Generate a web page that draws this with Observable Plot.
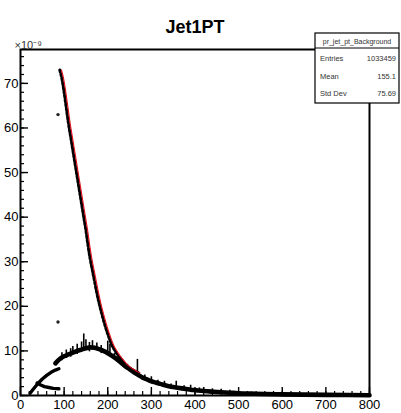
<!DOCTYPE html>
<html>
<head>
<meta charset="utf-8">
<script src="https://cdn.jsdelivr.net/npm/d3@7"></script>
<script src="https://cdn.jsdelivr.net/npm/@observablehq/plot@0.6"></script>
<style>
  html, body { margin: 0; padding: 0; background: #fff; }
  #chart { position: relative; width: 401px; height: 413px; }
</style>
</head>
<body>
<div id="chart"></div>
<script>
// ---- data (values in units of 1e-9) ----
const redX = [90,95,100,105,110,115,120,125,130,135,140,145,150,155,160,165,170,175,180,185,190,195,200,205,210,215,220,225,230,235,240,245,250,255,260,265,270];
const redY = [73,71,68,64.5,61,58,55,52,49,46,43,40,37,33.5,30.5,28,25.5,23,20.8,18.8,17,15.3,13.8,12.4,11.2,10.3,9.5,8.8,8.2,7.6,7.0,6.6,6.2,5.9,5.6,5.3,5.1];

const bandX = [80,90,100,110,120,130,140,150,160,170,180,190,200,210,220,230,240,250,260,270,280,290,300,310,320,330,340,350,360,370,380,390,400,420,440,460,480,500,530,560,600,650,700,750,800];
const bandY = [7.2,8.2,8.8,9.2,9.6,10.0,10.3,10.6,10.8,10.7,10.4,10.0,9.5,8.9,8.2,7.4,6.6,5.9,5.2,4.6,4.0,3.6,3.2,2.9,2.6,2.35,2.1,1.9,1.75,1.6,1.45,1.3,1.2,1.0,0.85,0.72,0.62,0.52,0.42,0.34,0.26,0.19,0.14,0.1,0.07];

const lowUpperX = [22,30,40,50,60,70,80,88];
const lowUpperY = [0.5,1.5,2.7,3.7,4.5,5.2,5.7,6.0];
const lowLowerX = [38,45,55,65,75,88];
const lowLowerY = [2.8,2.4,2.0,1.8,1.6,1.5];

const spikeX  = [95,105,115,120,130,140,145,150,158,165,175,185,200,205,215,230,245,268,285,300,315,330,345,357,375,390,410,420,440,460,480];
const spikeLo = [7.8,8.3,8.6,9.6,9.2,10.3,10.3,10.6,9.8,10.8,10.5,9.4,9.5,9.2,8.2,7.4,5.8,4.6,3.6,3.2,2.5,2.35,1.7,1.8,1.3,1.3,0.9,1.0,0.85,0.72,0.6];
const spikeHi = [9.6,10.2,10.5,11.0,11.5,12.0,13.8,12.5,11.9,12.3,11.8,11.2,12.2,11.5,9.4,8.6,7.0,8.1,4.6,4.2,3.4,3.2,2.6,3.2,2.2,2.3,1.7,1.8,1.5,1.4,1.2];

const strayX = [86,86];
const strayY = [63,16.5];

const xMajor = [0,100,200,300,400,500,600,700,800];
const xMinor = d3.range(0, 801, 20);
const yMajor = [0,10,20,30,40,50,60,70];
const yMinor = d3.range(0, 77, 2);

const title = "Jet1PT";
const statsName = "pr_jet_pt_Background";
const statsLabels = ["Entries", "Mean", "Std Dev"];
const statsValues = ["1033459", "155.1", "75.69"];

// ---- build tables ----
const red = redX.map((x, i) => ({x, y: redY[i]}));
const band = bandX.map((x, i) => ({x, y: bandY[i]}));
const lowU = lowUpperX.map((x, i) => ({x, y: lowUpperY[i]}));
const lowL = lowLowerX.map((x, i) => ({x, y: lowLowerY[i]}));
const spikes = spikeX.map((x, i) => ({x, y1: spikeLo[i], y2: spikeHi[i]}));
const stray = strayX.map((x, i) => ({x, y: strayY[i]}));

const W = 401, H = 413, mT = 49, mR = 32, mB = 18, mL = 20;
const fw = W - mL - mR, fh = H - mT - mB;

const plot = Plot.plot({
  width: W, height: H,
  marginTop: mT, marginRight: mR, marginBottom: mB, marginLeft: mL,
  x: {domain: [0, 800]},
  y: {domain: [0, 77.6]},
  style: {fontFamily: "Liberation Sans, Arial, Helvetica, sans-serif", background: "white", color: "black"},
  marks: [
    Plot.line(lowU, {x: "x", y: "y", stroke: "black", strokeWidth: 3.4}),
    Plot.line(lowL, {x: "x", y: "y", stroke: "black", strokeWidth: 3.4}),
    Plot.line(band, {x: "x", y: "y", stroke: "black", strokeWidth: 4.6, curve: "monotone-x"}),
    Plot.ruleX(spikes, {x: "x", y1: "y1", y2: "y2", stroke: "black", strokeWidth: 1.6}),
    Plot.line(red, {x: "x", y: "y", stroke: "black", strokeWidth: 3.0, strokeDasharray: "2.5,1.8", curve: "monotone-x"}),
    Plot.line(red, {x: "x", y: "y", stroke: "#e0101c", strokeWidth: 1.1, dx: 1.7, curve: "monotone-x"}),
    Plot.dot(stray, {x: "x", y: "y", r: 1.7, fill: "#222", stroke: "none"}),
    Plot.ruleX(xMajor, {x: d => d, insetTop: fh - 8, stroke: "black", strokeWidth: 1.4}),
    Plot.ruleX(xMinor, {x: d => d, insetTop: fh - 4, stroke: "black", strokeWidth: 1.2}),
    Plot.ruleY(yMajor, {y: d => d, insetRight: fw - 8, stroke: "black", strokeWidth: 1.4}),
    Plot.ruleY(yMinor, {y: d => d, insetRight: fw - 4, stroke: "black", strokeWidth: 1.2}),
    Plot.axisX({ticks: xMajor, tickSize: 0, tickPadding: 4, fontSize: 13, label: null}),
    Plot.axisY({ticks: yMajor, tickSize: 0, tickPadding: 2, fontSize: 13, label: null}),
    Plot.frame({stroke: "black", strokeWidth: 2}),
    Plot.text(["×10⁻⁹"], {frameAnchor: "top-left", dx: -6, dy: -8, textAnchor: "start", fontSize: 11, fill: "#333"}),
    Plot.text([title], {frameAnchor: "top", dy: -29, fontSize: 18, fontWeight: "bold"})
  ]
});

document.getElementById("chart").appendChild(plot);

// stats box
const svg = d3.select(plot);
const bx = 315, by = 33, bw = 84, bh = 70;
const g = svg.append("g").attr("font-family", "Liberation Sans, Arial, sans-serif").attr("fill", "#333");
g.append("rect").attr("x", bx).attr("y", by).attr("width", bw).attr("height", bh)
  .attr("fill", "white").attr("stroke", "black").attr("stroke-width", 1.2);
g.append("line").attr("x1", bx).attr("x2", bx + bw).attr("y1", by + 15).attr("y2", by + 15)
  .attr("stroke", "black").attr("stroke-width", 1);
g.append("text").attr("x", bx + bw / 2).attr("y", by + 10.5).attr("text-anchor", "middle")
  .attr("font-size", 7).text(statsName);
const rowY = [61, 79, 96];
statsLabels.forEach((lab, i) => {
  g.append("text").attr("x", bx + 5).attr("y", rowY[i]).attr("text-anchor", "start")
    .attr("font-size", 7.5).text(lab);
  g.append("text").attr("x", bx + bw - 3).attr("y", rowY[i]).attr("text-anchor", "end")
    .attr("font-size", 7.5).text(statsValues[i]);
});
</script>
</body>
</html>
